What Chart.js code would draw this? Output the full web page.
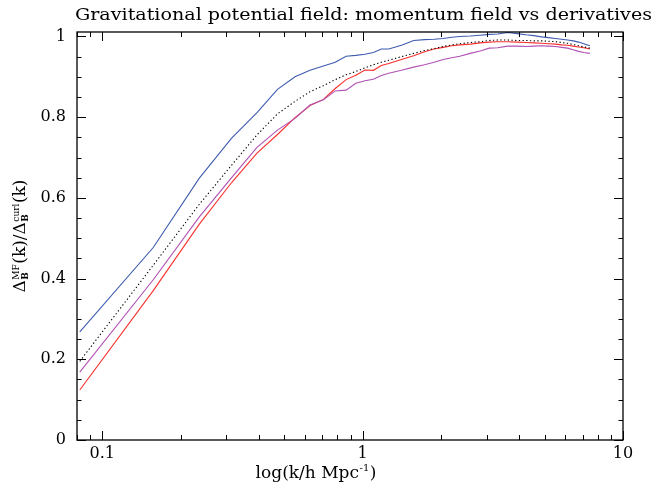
<!DOCTYPE html>
<html>
<head>
<meta charset="utf-8">
<script src="https://cdn.jsdelivr.net/npm/chart.js@4/dist/chart.umd.min.js"></script>
<style>
  html, body { margin: 0; padding: 0; background: #fff; }
  #wrap { width: 657px; height: 489px; position: relative; }
</style>
</head>
<body>
<div id="wrap"><canvas id="c" width="657" height="489"></canvas></div>
<script>
// ---- data ----
const titleText = "Gravitational potential field: momentum field vs derivatives";
const xAxisTitleMain = "log(k/h Mpc";
const xAxisTitleSup = "-1";
const xAxisTitleEnd = ")";
const xTickValues = [0.1, 1, 10];
const yTickValues = [0, 0.2, 0.4, 0.6, 0.8, 1];

const kValues = [0.082, 0.157, 0.236, 0.314, 0.393, 0.471, 0.55, 0.628, 0.707, 0.785,
  0.864, 0.942, 1.02, 1.1, 1.18, 1.26, 1.41, 1.57, 1.73, 1.88,
  2.04, 2.2, 2.36, 2.59, 2.83, 3.06, 3.3, 3.61, 3.93, 4.24,
  4.55, 4.87, 5.18, 5.5, 5.81, 6.13, 6.44, 6.75, 7.07, 7.46];

const blueRatio = [0.268, 0.477, 0.649, 0.748, 0.811, 0.869, 0.900, 0.916, 0.927, 0.936,
  0.951, 0.953, 0.956, 0.960, 0.969, 0.969, 0.978, 0.990, 0.992, 0.993,
  0.995, 0.998, 1.000, 1.001, 1.003, 1.005, 1.006, 1.010, 1.007, 1.004,
  1.002, 0.999, 0.997, 0.995, 0.993, 0.991, 0.989, 0.986, 0.982, 0.977];

const blackRatio = [0.195, 0.433, 0.584, 0.681, 0.756, 0.808, 0.839, 0.863, 0.878, 0.893,
  0.905, 0.913, 0.922, 0.930, 0.936, 0.941, 0.950, 0.958, 0.965, 0.970,
  0.975, 0.979, 0.982, 0.985, 0.987, 0.990, 0.991, 0.991, 0.990, 0.990,
  0.989, 0.989, 0.988, 0.987, 0.985, 0.983, 0.980, 0.977, 0.974, 0.971];

const redRatio = [0.124, 0.370, 0.535, 0.638, 0.711, 0.757, 0.799, 0.829, 0.844, 0.871,
  0.893, 0.904, 0.917, 0.916, 0.928, 0.933, 0.943, 0.952, 0.962, 0.969,
  0.973, 0.977, 0.979, 0.981, 0.984, 0.986, 0.987, 0.987, 0.986, 0.985,
  0.984, 0.983, 0.982, 0.981, 0.979, 0.978, 0.976, 0.974, 0.972, 0.969];

const magentaRatio = [0.168, 0.397, 0.553, 0.650, 0.725, 0.768, 0.797, 0.830, 0.843, 0.865,
  0.867, 0.884, 0.890, 0.894, 0.903, 0.909, 0.916, 0.924, 0.930, 0.936,
  0.943, 0.947, 0.951, 0.958, 0.964, 0.971, 0.972, 0.976, 0.976, 0.975,
  0.976, 0.977, 0.976, 0.975, 0.973, 0.971, 0.967, 0.963, 0.960, 0.958];

// ---- chart ----
const toPts = arr => kValues.map((k, i) => ({ x: k, y: arr[i] }));
const SERIF = "'DejaVu Serif', 'Liberation Serif', serif";

const framePlugin = {
  id: 'frame',
  afterDraw(chart) {
    const ctx = chart.ctx;
    const a = chart.chartArea;
    const xs = chart.scales.x, ys = chart.scales.y;
    ctx.save();
    ctx.strokeStyle = '#000';
    ctx.lineWidth = 1.3;
    ctx.strokeRect(a.left, a.top, a.right - a.left, a.bottom - a.top);
    ctx.lineWidth = 1;
    ctx.beginPath();
    // x ticks (log): major decades, minor 2..9
    for (let d = -2; d <= 1; d++) {
      for (let m = 1; m <= 9; m++) {
        const v = m * Math.pow(10, d);
        if (v < xs.min || v > xs.max) continue;
        const px = Math.round(xs.getPixelForValue(v)) + 0.5;
        const len = (m === 1) ? 9 : 5;
        ctx.moveTo(px, a.bottom); ctx.lineTo(px, a.bottom - len);
        ctx.moveTo(px, a.top); ctx.lineTo(px, a.top + len);
      }
    }
    // y ticks: major every 0.2, minor every 0.05
    for (let i = 0; i <= 20; i++) {
      const v = i * 0.05;
      const py = Math.round(ys.getPixelForValue(v)) + 0.5;
      const len = (i % 4 === 0) ? 9 : 4.5;
      ctx.moveTo(a.left, py); ctx.lineTo(a.left + len, py);
      ctx.moveTo(a.right, py); ctx.lineTo(a.right - len, py);
    }
    ctx.stroke();

    // title
    ctx.fillStyle = '#000';
    ctx.font = "16px " + SERIF;
    ctx.textBaseline = 'alphabetic';
    ctx.textAlign = 'left';
    const tw = ctx.measureText(titleText).width;
    const targetW = 577;
    ctx.save();
    ctx.translate(75, 20);
    ctx.scale(targetW / tw, 1);
    ctx.fillText(titleText, 0, 0);
    ctx.restore();

    // x axis title with superscript
    const mainF = "17px " + SERIF, supF = "10px " + SERIF;
    ctx.font = mainF; const w1 = ctx.measureText(xAxisTitleMain).width;
    const w3 = ctx.measureText(xAxisTitleEnd).width;
    ctx.font = supF; const w2 = ctx.measureText(xAxisTitleSup).width;
    let xx = 316 - (w1 + w2 + 1 + w3) / 2;
    const base = 478;
    ctx.font = mainF; ctx.fillText(xAxisTitleMain, xx, base); xx += w1;
    ctx.font = supF; ctx.fillText(xAxisTitleSup, xx + 0.5, base - 7); xx += w2 + 1;
    ctx.font = mainF; ctx.fillText(xAxisTitleEnd, xx, base);

    // y axis title with stacked sub/superscripts
    const parts = [
      { t: '\u0394', f: "17px " + SERIF },
      { stack: true, sup: 'MF', sub: 'B' },
      { t: '(k)/', f: "17px " + SERIF },
      { t: '\u0394', f: "17px " + SERIF },
      { stack: true, sup: 'curl', sub: 'B' },
      { t: '(k)', f: "17px " + SERIF }
    ];
    const smallF = "9px " + SERIF;
    const smallB = "bold 9px " + SERIF;
    let total = 0;
    const widths = parts.map(p => {
      let w;
      if (p.stack) {
        ctx.font = smallF; const a1 = ctx.measureText(p.sup).width;
        ctx.font = smallB; const a2 = ctx.measureText(p.sub).width;
        w = Math.max(a1, a2) + 1;
      } else { ctx.font = p.f; w = ctx.measureText(p.t).width; }
      total += w; return w;
    });
    ctx.save();
    ctx.translate(25, (a.top + a.bottom) / 2);
    ctx.rotate(-Math.PI / 2);
    ctx.textAlign = 'left';
    let x0 = -total / 2;
    parts.forEach((p, i) => {
      if (p.stack) {
        ctx.font = smallF; ctx.fillText(p.sup, x0 + 0.5, -6);
        ctx.font = smallB; ctx.fillText(p.sub, x0 + 0.5, 3);
      } else { ctx.font = p.f; ctx.fillText(p.t, x0, 0); }
      x0 += widths[i];
    });
    ctx.restore();
    ctx.restore();
  }
};

const lineDs = (label, arr, color, dash) => ({
  label, data: toPts(arr), showLine: true, borderColor: color, borderWidth: 1.1,
  borderDash: dash || [], pointRadius: 0, fill: false, tension: 0
});

new Chart(document.getElementById('c'), {
  type: 'scatter',
  data: {
    datasets: [
      lineDs('momentum field (black)', blackRatio, '#000000', [1.3, 2.4]),
      lineDs('magenta', magentaRatio, '#b150b4'),
      lineDs('red', redRatio, '#f8302c'),
      lineDs('blue', blueRatio, '#3e5cb0')
    ]
  },
  options: {
    responsive: false,
    animation: false,
    layout: { padding: { top: 32, right: 34, left: 0, bottom: 0 } },
    plugins: { legend: { display: false }, tooltip: { enabled: false }, title: { display: false } },
    scales: {
      x: {
        type: 'logarithmic', min: 0.08, max: 10,
        grid: { display: false, drawTicks: false }, border: { display: false },
        afterBuildTicks: s => { s.ticks = xTickValues.map(v => ({ value: v })); },
        afterFit: s => { s.height = 49; },
        ticks: {
          autoSkip: false, maxRotation: 0, color: '#000', padding: 4,
          font: { family: SERIF, size: 16 },
          callback: v => String(v)
        }
      },
      y: {
        type: 'linear', min: 0, max: 1.011,
        grid: { display: false, drawTicks: false }, border: { display: false },
        afterBuildTicks: s => { s.ticks = yTickValues.map(v => ({ value: v })); },
        afterFit: s => { s.width = 77; },
        ticks: {
          color: '#000', padding: 11,
          font: { family: SERIF, size: 16 },
          callback: v => (v === 0 ? '0' : v === 1 ? '1' : v.toFixed(1))
        }
      }
    }
  },
  plugins: [framePlugin]
});
</script>
</body>
</html>
